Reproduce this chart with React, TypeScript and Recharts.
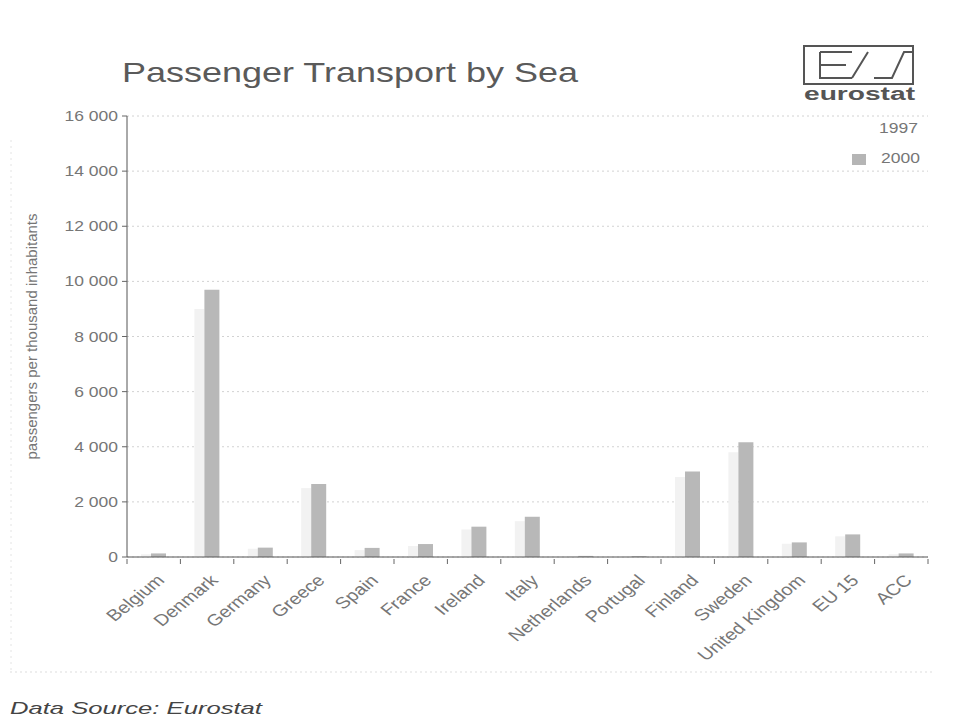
import React from 'react'
import { BarChart, Bar, XAxis, YAxis, CartesianGrid, Legend } from 'recharts'

// passengers per thousand inhabitants
const countries = [
  'Belgium', 'Denmark', 'Germany', 'Greece', 'Spain', 'France', 'Ireland', 'Italy',
  'Netherlands', 'Portugal', 'Finland', 'Sweden', 'United Kingdom', 'EU 15', 'ACC',
]
const values1997 = [100, 9000, 300, 2500, 250, 400, 1000, 1300, 30, 20, 2900, 3800, 480, 750, 100]
const values2000 = [130, 9700, 340, 2650, 330, 470, 1100, 1460, 40, 30, 3100, 4160, 530, 820, 130]
const yTicks = [0, 2000, 4000, 6000, 8000, 10000, 12000, 14000, 16000]

const data = countries.map((name, i) => ({
  name,
  y1997: values1997[i],
  y2000: values2000[i],
}))

const FONT = 'Arial, "Liberation Sans", sans-serif'
const TEXT = '#767676'
// the scan is stretched sideways, so text is widened to match
const STRETCH = 'scale(1.25,1)'

const fmt = (v: number) => String(v).replace(/\B(?=(\d{3})+(?!\d))/g, ' ')

const YTick = (props: any) => {
  const { x, y, payload } = props
  return (
    <text transform={`translate(${x},${y}) ${STRETCH}`} textAnchor="end" dy="0.36em" fontSize={14} fill={TEXT} fontFamily={FONT}>
      {fmt(payload.value)}
    </text>
  )
}

const XTick = (props: any) => {
  const { x, y, payload, index, visibleTicksCount } = props
  const half = payload.offset || 26.7
  const last = index === visibleTicksCount - 1
  return (
    <g>
      <line x1={x - half} y1={y - 8} x2={x - half} y2={y - 3} stroke="#666" />
      {last && <line x1={x + half} y1={y - 8} x2={x + half} y2={y - 3} stroke="#666" />}
      <text
        transform={`translate(${x + 4},${y + 8}) ${STRETCH} rotate(-45)`}
        textAnchor="end"
        dy={9}
        fontSize={16}
        fill={TEXT}
        fontFamily={FONT}
      >
        {payload.value}
      </text>
    </g>
  )
}

const LegendBox = () => (
  <svg width={130} height={60}>
    <text x={118} y={21} textAnchor="end" fontSize={14} fill={TEXT} fontFamily={FONT} transform="translate(118,0) scale(1.25,1) translate(-118,0)">
      1997
    </text>
    <rect x={52} y={42} width={14} height={11} fill="#b5b5b5" />
    <text x={120} y={51} textAnchor="end" fontSize={14} fill={TEXT} fontFamily={FONT} transform="translate(120,0) scale(1.25,1) translate(-120,0)">
      2000
    </text>
  </svg>
)

export default function App() {
  return (
    <div style={{ position: 'absolute', left: 0, top: 0, width: 963, height: 719, background: '#fff', fontFamily: FONT }}>
      <BarChart
        width={963}
        height={719}
        data={data}
        margin={{ top: 116, right: 35, bottom: 0, left: 0 }}
        barGap={0}
      >
        <CartesianGrid vertical={false} stroke="#d2d2d2" strokeDasharray="2 3" />
        <XAxis
          dataKey="name"
          height={162}
          interval={0}
          tick={<XTick />}
          tickLine={false}
          axisLine={{ stroke: '#555' }}
          tickSize={8}
        />
        <YAxis
          width={127}
          domain={[0, 16000]}
          ticks={yTicks}
          tick={<YTick />}
          tickLine={{ stroke: '#666' }}
          axisLine={{ stroke: '#555' }}
          tickSize={5}
          tickMargin={4}
          label={{
            value: 'passengers per thousand inhabitants',
            angle: -90,
            position: 'insideLeft',
            offset: 0,
            dx: 32,
            style: { fontSize: 15, fill: TEXT, fontFamily: FONT, textAnchor: 'middle' },
          }}
        />
        <Legend
          layout="horizontal"
          verticalAlign="middle"
          align="center"
          content={<LegendBox />}
          wrapperStyle={{ top: 112, left: 800, width: 130, height: 60 }}
        />
        <Bar dataKey="y1997" name="1997" fill="#f2f2f2" barSize={10} isAnimationActive={false} />
        <Bar dataKey="y2000" name="2000" fill="#b8b8b8" barSize={15} isAnimationActive={false} />
      </BarChart>

      {/* title, logo, source note and the faint frame of the scan */}
      <svg width={963} height={719} style={{ position: 'absolute', left: 0, top: 0, pointerEvents: 'none' }}>
        <text x={122} y={82} fontSize={28} fill="#5a5a5a" fontFamily={FONT} textLength={456} lengthAdjust="spacingAndGlyphs">
          Passenger Transport by Sea
        </text>
        <g stroke="#555" strokeWidth={2} fill="none">
          <rect x={804} y={46} width={109} height={38} />
          <path d="M820 52 H852 M820 52 V78 H852 M820 65 H846" />
          <path d="M852 78 L868 52 M874 78 H892 L904 52 H912" />
        </g>
        <text x={804} y={100} fontSize={18} fontWeight="bold" fill="#555" fontFamily={FONT} textLength={111} lengthAdjust="spacingAndGlyphs">
          eurostat
        </text>
        <line x1={10} y1={672} x2={932} y2={672} stroke="#ddd" strokeDasharray="2 3" />
        <line x1={11} y1={140} x2={11} y2={672} stroke="#e4e4e4" strokeDasharray="2 4" />
        <text x={10} y={714} fontSize={17} fontStyle="italic" fill="#444" fontFamily={FONT} textLength={252} lengthAdjust="spacingAndGlyphs">
          Data Source: Eurostat
        </text>
      </svg>
    </div>
  )
}
